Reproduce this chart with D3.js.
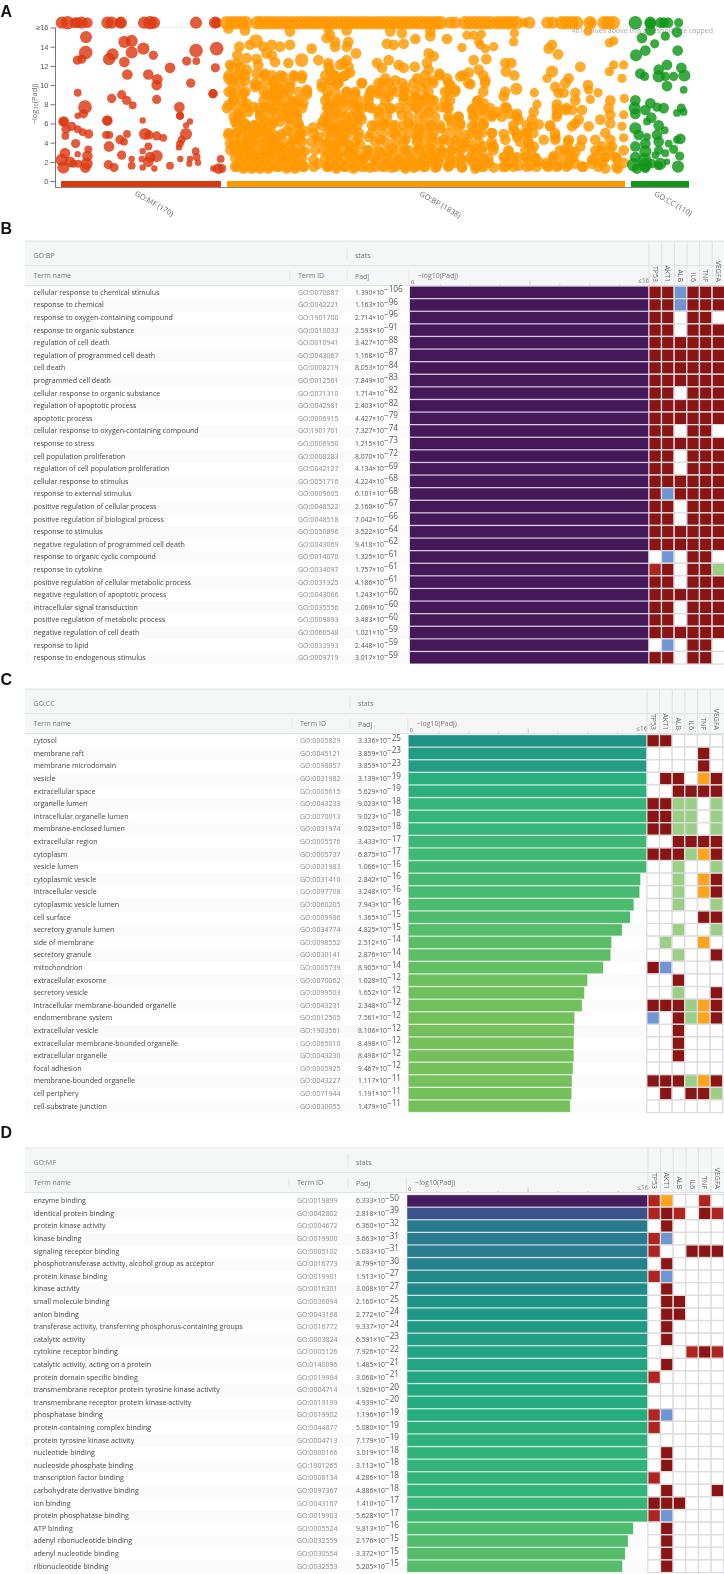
<!DOCTYPE html>
<html>
<head>
<meta charset="utf-8">
<script src="https://cdnjs.cloudflare.com/ajax/libs/d3/7.8.5/d3.min.js"></script>
<style>
  html, body { margin: 0; padding: 0; background: #fff; }
  svg { display: block; font-family: "Open Sans", sans-serif; filter: blur(0.3px); }
</style>
</head>
<body>
<div id="chart"></div>
<script>
// Manhattan points: [axis position, -log10(Padj), size class]. 16.5 = capped row above threshold
var mfPoints = [
  [185,16.5,5],[203,16.5,6],[225,16.5,4],[232,16.5,4],[245,16.5,5],[262,16.5,4],[322,16.5,5],[335,16.5,5],[360,16.5,4],[363,16.5,5],
  [432,16.5,5],[450,16.5,6],[462,16.5,5],[588,16.5,5],[645,16.5,5],[650,16.5,4],
  [258,15.0,5],[257,13.4,6],[245,12.7,3],[232,12.6,3],[395,14.6,5],[373,14.5,5],[395,13.4,5],[338,13.2,5],[327,12.7,5],[373,12.4,4],
  [430,13.8,5],[460,13.1,3],[588,13.6,6],[650,13.8,6],[560,12.5,3],[589,12.5,2],[510,11.8,4],[646,11.8,3],[382,11.1,4],[445,11.1,4],
  [472,10.6,4],[470,10.0,4],[572,10.2,3],[233,9.2,2],[365,9.0,3],[335,8.6,3],[380,8.4,3],[398,7.9,2],[470,8.5,3],[639,9.1,3],[639,9.1,3],
  [255,7.7,6],[250,7.0,3],[233,6.8,1],[538,7.7,4],[540,6.8,2],[540,6.8,2],[191,6.2,4],[191,6.2,3],[322,6.3,4],[322,6.3,3],[428,6.3,1],
  [570,6.2,1],[558,5.8,1],[198,5.4,3],[233,5.4,2],[215,5.7,3],[266,4.9,3],[248,5.1,2],[196,4.7,2],[318,4.8,2],[328,4.8,2],[360,4.3,3],
  [381,4.9,2],[372,4.1,2],[435,4.9,5],[447,4.8,3],[470,4.7,3],[490,4.5,2],[558,4.9,5],[545,4.3,2],[540,3.9,2],[537,3.5,1],[227,3.9,3],
  [327,3.6,4],[445,3.6,2],[428,3.1,1],[587,3.1,2],[590,2.5,2],[233,2.8,1],[195,2.9,4],[265,3.3,2],[262,2.6,4],[470,2.6,5],[450,2.5,4],
  [445,2.0,4],[425,2.3,1],[395,2.3,1],[541,2.3,1],[570,2.3,1],[594,1.9,1],[662,2.3,2],[185,2.2,5],[210,2.0,4],[260,1.8,5],[235,1.8,2],
  [190,1.4,5],[256,1.4,4],[325,1.7,3],[342,1.4,3],[395,1.6,2],[428,1.4,1],[463,1.3,1],[510,1.6,2],[568,1.8,1],[640,1.3,1],[655,1.3,4],
  [665,1.3,3],[365,2.7,3],[220,1.8,2]
];

var bpPoints = [
  [680,16.5],[695,16.5],[710,16.5],[725,16.5],[738,16.5],[772,16.5],[785,16.5],[800,16.5],[815,16.5],[830,16.5],[845,16.5],[860,16.5],
  [875,16.5],[890,16.5],[905,16.5],[920,16.5],[935,16.5],[950,16.5],[965,16.5],[980,16.5],[995,16.5],[1010,16.5],[1025,16.5],[1040,16.5],
  [1055,16.5],[1070,16.5],[1086,16.5],[1100,16.5],[1115,16.5],[1130,16.5],[1145,16.5],[1160,16.5],[1175,16.5],[1190,16.5],[1205,16.5],
  [1220,16.5],[1235,16.5],[1250,16.5],[1265,16.5],[1280,16.5],[1295,16.5],[1310,16.5],[1322,16.5],[1350,16.5,5],[1365,16.5,5],
  [1395,16.5],[1410,16.5],[1425,16.5],[1440,16.5],[1455,16.5],[1470,16.5],[1490,16.5],[1505,16.5],[1520,16.5],[1535,16.5],[1550,16.5],
  [1572,16.5,3],[1588,16.5,5],[1642,16.5,5],[1658,16.5,5],[1685,16.5],[1700,16.5],[1715,16.5],[1730,16.5],[1773,16.5,3],[1825,16.5],
  [1840,16.5],[1770,16.5],[1812,16.5],
  [685,15.9],[735,15.7],[870,15.6],[985,15.9],[990,15.2],[980,14.9],[1005,14.5],[1040,15.7],[1045,14.5],[1005,14.0],[1040,14.0],
  [768,14.6,6],[750,14.2],[718,14.0],[790,14.0],[815,14.2],[870,14.2],[840,14.0],[935,13.8],[712,13.1],[800,13.3],[815,13.1],[740,12.8],
  [770,12.7],[825,12.4],[905,12.6,6],[955,12.6],[985,12.3],[865,12.3],[1040,12.6],[1030,12.3],[690,12.1],[712,12.3],[775,12.1],[1068,13.3],[1020,12.1],
  [740,11.6],[718,11.2],[685,10.7],[700,10.5],[735,10.4],[770,11.2],[795,11.2],[850,10.9],[885,10.9],[905,10.7],[990,11.6],[1050,11.3],
  [1005,11.0],[1030,10.9],[1085,10.2],[770,10.0],[820,10.4],[765,9.8],[825,9.5],[870,9.8],[965,9.8],[990,10.5],[1010,10.2],
  [695,9.3],[730,9.1],[800,9.0],[850,9.1],[920,9.5],[920,9.0],[1040,9.3],[1065,9.1],[985,8.8],[1020,8.6],
  [685,7.9],[740,8.1],[795,7.7],[830,8.4],[860,7.7],[880,8.3],[910,8.1],[985,7.7],[1030,8.3],[1060,8.1],[1075,7.7],[700,8.5],[815,8.8],[840,9.6],
  [715,7.0],[745,7.2],[780,6.9],[850,6.9],[890,7.0],[985,6.7],[1010,7.0],[1040,6.7],[1070,6.9],[820,7.4],[880,7.2],[1000,8.0],[760,7.7],
  [705,6.2],[735,6.0],[765,5.8],[795,6.2],[820,6.0],[870,6.5],[895,6.0],[940,5.6],[968,6.2],[985,5.8],[1030,5.8],[1060,6.0],[1085,6.4],[720,6.6],[840,6.2],
  [685,4.8],[710,5.0],[740,4.4],[770,5.0],[800,5.0],[830,4.6],[860,5.2],[880,4.3],[915,5.2],[955,4.6],[935,4.1],[995,5.0],[1020,4.8],[1045,5.0],[1075,4.6],
  [725,5.3],[785,5.4],[845,4.9],[900,4.8],[1005,5.6],[1055,5.4],[755,5.0],[815,4.2],
  [690,3.9],[715,3.9],[730,3.6],[760,4.1],[790,3.9],[820,3.8],[870,3.6],[900,4.3],[980,3.9],[1010,3.8],[1050,3.6],[1080,3.8],[840,3.6],[745,4.0],[1030,4.2],
  [705,3.1],[735,2.9],[765,2.7],[795,2.9],[825,3.1],[860,2.7],[890,2.9],[915,3.1],[940,2.2],[985,2.9],[1015,2.7],[1045,2.9],[1075,2.7],[750,3.2],[810,3.2],[845,3.3],[875,3.2],[1000,3.3],[1060,3.3],
  [720,2.2],[750,2.2],[780,2.0],[810,2.2],[845,2.2],[875,2.2],[900,2.0],[955,1.8],[990,2.0],[1020,1.8],[1050,2.0],[1080,2.2],
  [705,1.5],[730,1.3],[755,1.3],[780,1.3],[805,1.3],[830,1.5],[860,1.3],[885,1.3],[910,1.5],[985,1.5],[1010,1.3],[1035,1.5],[1060,1.3],[1085,1.5],
  // right half of the axis
  [1171,15.6],[1206,15.4],[1161,14.3],[1181,14.2],[1211,14.3],[1246,14.8],[1291,15.6],[1291,15.1],[1341,14.8],[1401,15.2,3],[1421,15.2,3],[1444,15.3,3],
  [1543,15.4,3],[1541,14.5,3],[1386,13.9,3],[1441,14.2,3],[1456,13.8,3],[1481,14.0,3],[1436,14.5,3],[1656,14.2],[1646,13.8],[1674,13.2],[1764,15.6,3],[1841,14.6,3],[1828,14.4,3],[1286,13.3],[1301,13.0],
  [1131,12.3],[1166,12.6],[1196,12.1],[1211,11.8],[1146,11.8],[1244,11.9],[1281,12.3],[1286,11.6],[1421,12.6],[1459,12.7],[1516,12.3],[1534,12.3],[1518,11.4],[1543,11.0],
  [1656,11.4,5],[1741,11.9],[1841,12.1,3],[1871,12.1,3],[1828,11.4,3],[1641,10.7,3],[1706,10.7],[1866,10.7,3],
  [1156,10.7],[1186,10.5],[1251,10.7],[1296,10.5],[1318,11.2],[1381,10.9],[1406,11.3],[1436,11.6],[1456,10.5],[1411,10.1],[1341,10.7],[1351,10.0],[1146,10.2],[1116,9.5],[1176,9.6],[1216,9.8],[1266,9.8],
  [1696,10.2],[1764,10.0],[1549,9.6,5],[1603,9.2,3],[1666,9.8],[1676,9.2],[1726,9.2],[1691,9.2],[1766,9.5,3],[1794,9.2,3],[1771,8.5,3],
  [1106,8.8],[1136,9.1],[1166,8.8],[1211,8.8],[1246,8.8],[1276,8.8],[1301,8.4],[1366,9.5],[1346,9.4],[1336,8.4],[1431,8.3],[1451,8.1],[1511,8.8],[1611,8.0,3],[1671,8.0],[1726,8.4],[1831,8.4],[1873,8.6,3],[1601,7.2],[1516,7.7],[1416,7.4],[1491,7.2],
  [1106,7.7],[1136,7.2],[1171,7.5],[1206,6.9],[1246,7.7],[1286,7.2],[1326,7.7],[1346,7.6],[1376,6.7],[1421,6.9],[1451,7.4],[1476,6.9],[1531,7.0],[1551,7.0],[1556,6.4],[1596,6.4],[1671,7.0],[1696,7.4],[1716,7.4],[1746,7.4],[1736,6.4],[1826,7.6],[1831,6.9],[1871,6.9,3],
  [1116,5.8],[1151,6.0],[1186,5.8],[1226,6.0],[1256,5.5],[1291,5.8],[1321,5.5],[1351,6.4],[1381,6.0],[1416,5.7],[1451,6.0],[1476,5.0],[1511,4.9],[1541,5.3],[1576,5.0],[1596,5.7],[1616,5.9],[1651,5.7],[1666,4.6],[1716,5.7],[1766,5.7],[1801,6.4],[1831,6.0],[1866,5.7,3],[1726,6.0],
  [1106,4.6],[1141,4.3],[1186,4.9],[1216,4.3],[1251,4.5],[1296,4.6],[1331,4.3],[1366,4.2],[1396,4.8],[1431,4.9],[1476,3.6],[1516,4.3],[1551,4.6],[1586,3.9],[1631,4.3],[1666,4.3],[1706,4.3],[1746,4.3],[1786,4.3],[1816,5.0],[1831,4.3],[1871,4.5,3],[1396,3.9],[1586,3.9],
  [1101,3.2],[1141,3.0],[1176,3.4],[1216,3.2],[1256,3.4],[1291,3.4],[1326,3.0],[1356,3.2],[1386,3.4],[1426,3.4],[1481,3.6],[1526,3.0],[1576,3.2],[1601,3.6],[1696,3.3],[1726,3.0],[1786,3.2],[1806,3.6],[1836,3.6],[1871,3.2],[1741,3.6],[1451,3.6],
  [1096,2.5],[1126,2.2],[1161,2.4],[1196,2.2],[1231,2.4],[1271,2.4],[1301,2.5],[1351,2.2],[1386,2.2],[1421,2.5],[1451,2.2],[1511,2.5],[1551,2.5],[1576,2.5],[1606,2.4],[1661,2.6],[1711,2.5],[1776,2.2],[1816,2.5],[1846,2.5],
  [1111,1.4],[1146,1.5],[1176,1.4],[1216,1.3],[1241,1.4],[1271,1.5],[1306,1.4],[1346,1.6],[1386,1.4],[1426,1.3],[1446,1.5],[1481,1.4],[1516,1.5],[1556,1.6],[1591,1.6],[1641,1.6],[1676,1.6],[1706,1.7],[1746,1.5],[1816,1.3],[1853,1.3],[1871,1.9],
  [1366,1.9],[1316,1.9],[1221,1.9],[1191,1.8],[1251,1.8],[1161,1.8],[1296,2.0],[1416,2.0],[1466,1.9],[1641,1.9],[1616,2.0],[1526,1.8],[1806,1.9],[1776,1.8],[1726,1.8]
];

// dense part of the BP cloud, one band per value: [-log10(Padj), [axis positions]]
var bpBands = [
  [11.9, [696,721,986,1046]],
  [11.0, [686,711,736,791,816,841,881,906,976,1001,1036,1275,1320,1390,1450]],
  [10.2, [696,721,766,796,821,846,871,966,991,1016,1086,1136,1166,1206,1241,1275,1300,1345,1405,1455]],
  [9.3, [686,711,736,791,816,841,866,896,921,981,1006,1041,1066,1111,1141,1166,1191,1216,1246,1285,1335,1365,1450,1515]],
  [8.4, [701,726,791,816,841,871,896,976,1011,1046,1076,1106,1156,1211,1236,1261,1270,1295,1350,1435]],
  [7.6, [681,711,736,776,801,826,851,881,906,981,1006,1031,1061,1086,1116,1146,1171,1196,1221,1251,1275,1300,1340,1420,1445,1470,1520,1670,1700]],
  [6.7, [701,721,781,806,831,861,891,976,1001,1026,1056,1081,1136,1161,1226,1256,1275,1305,1345,1375,1420,1445,1475,1505,1550,1670]],
  [5.8, [711,736,761,786,811,871,896,966,991,1016,1041,1071,1126,1151,1176,1211,1241,1270,1295,1320,1355,1380,1425,1450,1540,1580,1650]],
  [5.0, [686,711,741,766,791,816,876,901,941,981,1006,1031,1076,1116,1146,1176,1206,1231,1256,1275,1300,1340,1370,1415,1445,1475,1550,1580,1600,1665]],
  [4.1, [701,726,751,776,801,826,851,881,906,956,986,1011,1036,1066,1126,1156,1186,1211,1251,1270,1295,1320,1350,1380,1405,1435,1475,1560,1585,1705]],
  [3.2, [691,716,741,766,791,816,841,901,946,971,1001,1026,1051,1106,1136,1166,1196,1226,1256,1275,1300,1325,1355,1380,1415,1445,1480,1525,1595,1680,1710,1800,1830]],
  [2.4, [706,731,756,781,806,831,856,881,906,976,1006,1031,1061,1091,1121,1151,1181,1211,1241,1270,1295,1320,1350,1380,1410,1440,1465,1515,1540,1580,1605,1660,1690,1720,1785,1815,1850]],
  [1.5, [711,736,761,786,811,836,861,886,911,941,981,1006,1036,1066,1096,1126,1156,1186,1216,1246,1275,1310,1345,1385,1430,1450,1510,1540,1580,1610,1645,1670,1700,1750,1795,1850]]
];

var ccPoints = [
  [1906,16.5,6],[1951,16.5,5],[1991,16.5,4],[2004,16.5,4],[2036,16.5,3],[1951,16.4,4],[1981,16.5,4],
  [1951,15.7,4],[2031,15.5,4],[1996,15.1,3],[1926,14.9,4],[1964,14.3,3],[1936,13.6,4],[1908,13.1,5],[2033,13.6,4],
  [2001,12.1,4],[1976,11.6,4],[2044,11.8,4],[1921,11.2,4],[1934,10.9,3],[1976,10.9,5],[1996,10.9,3],[2021,10.9,3],[2053,11.0,5],[2001,9.9,4],[2051,9.5,2],
  [1906,8.4,4],[1951,8.1,4],[1904,7.6,5],[1936,7.4,4],[1971,7.7,3],[1991,7.6,4],[2044,7.6,3],[1906,7.0,4],[2031,7.1,2],[2051,7.2,2],[1954,6.6,4],[1976,5.8,4],
  [1906,5.5,5],[1941,6.2,2],[1916,4.8,4],[1994,5.3,2],[1971,4.8,4],[1941,4.6,2],[1936,3.9,4],[1976,4.1,4],[2041,4.4,4],[2031,4.3,2],[1906,3.6,4],[2006,3.9,2],
  [2021,3.3,3],[1976,3.2,3],[1936,3.1,5],[1996,2.9,2],[1906,2.5,4],[1934,2.2,6],[2039,2.6,3],[1981,1.8,5],[1901,1.7,6],[1936,1.7,6],[1911,1.3,4],[2034,1.5,5],
  [1936,1.3,3],[1976,1.6,3],[2001,2.0,1],[1956,1.8,3],[1966,2.7,2]
];

var groupNames = ["GO:MF (170)", "GO:BP (1838)", "GO:CC (110)"];
var yTicks = [0, 2, 4, 6, 8, 10, 12, 14, 16];
var geneNames = ["TP53", "AKT1", "ALB", "IL6", "TNF", "VEGFA"];

var bpTerms = ["cellular response to chemical stimulus","response to chemical","response to oxygen-containing compound","response to organic substance","regulation of cell death","regulation of programmed cell death","cell death","programmed cell death","cellular response to organic substance","regulation of apoptotic process","apoptotic process","cellular response to oxygen-containing compound","response to stress","cell population proliferation","regulation of cell population proliferation","cellular response to stimulus","response to external stimulus","positive regulation of cellular process","positive regulation of biological process","response to stimulus","negative regulation of programmed cell death","response to organic cyclic compound","response to cytokine","positive regulation of cellular metabolic process","negative regulation of apoptotic process","intracellular signal transduction","positive regulation of metabolic process","negative regulation of cell death","response to lipid","response to endogenous stimulus"];
var bpIds = ["0070887","0042221","1901700","0010033","0010941","0043067","0008219","0012501","0071310","0042981","0006915","1901701","0006950","0008283","0042127","0051716","0009605","0048522","0048518","0050896","0043069","0014070","0034097","0031325","0043066","0035556","0009893","0060548","0033993","0009719"];
var bpPadj = [1.390e-106,1.163e-96,2.714e-96,2.593e-91,3.427e-88,1.168e-87,8.053e-84,7.849e-83,1.714e-82,2.403e-82,4.427e-79,7.327e-74,1.215e-73,8.070e-72,4.134e-69,4.224e-68,6.101e-68,2.160e-67,7.042e-66,3.522e-64,9.418e-62,1.325e-61,1.757e-61,4.186e-61,1.243e-60,2.069e-60,3.483e-60,1.021e-59,2.448e-59,3.017e-59];
// evidence per gene: d dark red, r red, o orange, g green, b blue, . none
var bpCells = ["ddbddd","ddbddd","dd.dd.","dd.ddd","dddddd","dddddd","dddddd","dddddd","dd.ddd","dddddd","dddddd","dd.dd.","dddddd","dd.ddd","dd.ddd","dddddd","dbdddd","dd.ddd","dd.ddd","dddddd","dddddd",".b.dd.","rd.ddg","dd.ddd","dddddd","dd.ddd","dd.ddd","dddddd",".b.dd.","dd.dd."];

var ccTerms = ["cytosol","membrane raft","membrane microdomain","vesicle","extracellular space","organelle lumen","intracellular organelle lumen","membrane-enclosed lumen","extracellular region","cytoplasm","vesicle lumen","cytoplasmic vesicle","intracellular vesicle","cytoplasmic vesicle lumen","cell surface","secretory granule lumen","side of membrane","secretory granule","mitochondrion","extracellular exosome","secretory vesicle","intracellular membrane-bounded organelle","endomembrane system","extracellular vesicle","extracellular membrane-bounded organelle","extracellular organelle","focal adhesion","membrane-bounded organelle","cell periphery","cell-substrate junction"];
var ccIds = ["0005829","0045121","0098857","0031982","0005615","0043233","0070013","0031974","0005576","0005737","0031983","0031410","0097708","0060205","0009986","0034774","0098552","0030141","0005739","0070062","0099503","0043231","0012505","1903561","0065010","0043230","0005925","0043227","0071944","0030055"];
var ccPadj = [3.336e-25,3.859e-23,3.859e-23,3.139e-19,5.629e-19,9.023e-18,9.023e-18,9.023e-18,3.433e-17,6.875e-17,1.066e-16,2.842e-16,3.248e-16,7.943e-16,1.365e-15,4.825e-15,2.512e-14,2.876e-14,8.905e-14,1.028e-12,1.652e-12,2.348e-12,7.561e-12,8.106e-12,8.498e-12,8.498e-12,9.467e-12,1.117e-11,1.191e-11,1.479e-11];
var ccCells = ["dd....","....d.","....d.",".dd.od","..dddd","ddgg.g","ddgg.g","ddgg.g","..dddd","dddgod","..g..g","..g.od","..g.od","..g..g","....dd","..g..g",".g..o.","..g..d","db....","..d...","..g..d","dddgod","b.dgod","..d...","..d...","..d...","......","dddgod",".d.ddg","......"];

var mfTerms = ["enzyme binding","identical protein binding","protein kinase activity","kinase binding","signaling receptor binding","phosphotransferase activity, alcohol group as acceptor","protein kinase binding","kinase activity","small molecule binding","anion binding","transferase activity, transferring phosphorus-containing groups","catalytic activity","cytokine receptor binding","catalytic activity, acting on a protein","protein domain specific binding","transmembrane receptor protein tyrosine kinase activity","transmembrane receptor protein kinase activity","phosphatase binding","protein-containing complex binding","protein tyrosine kinase activity","nucleotide binding","nucleoside phosphate binding","transcription factor binding","carbohydrate derivative binding","ion binding","protein phosphatase binding","ATP binding","adenyl ribonucleotide binding","adenyl nucleotide binding","ribonucleotide binding"];
var mfIds = ["0019899","0042802","0004672","0019900","0005102","0016773","0019901","0016301","0036094","0043168","0016772","0003824","0005126","0140096","0019904","0004714","0019199","0019902","0044877","0004713","0000166","1901265","0008134","0097367","0043167","0019903","0005524","0032559","0030554","0032553"];
var mfPadj = [6.333e-50,2.818e-39,6.360e-32,3.663e-31,5.033e-31,8.799e-30,1.913e-27,3.008e-27,2.160e-25,2.772e-24,9.337e-24,6.591e-23,7.926e-22,1.485e-21,3.068e-21,1.926e-20,4.939e-20,1.196e-19,5.080e-19,7.179e-19,3.019e-18,3.113e-18,4.286e-18,4.886e-18,1.410e-17,5.628e-17,9.813e-16,2.176e-15,3.372e-15,5.205e-15];
var mfCells = ["ro..r.","rdr.dr",".d....","rb....","r..ddd",".d....","rb....",".d....",".dd...",".dd...",".d....",".d....","...rdr",".d....","r.....","......","......","rb....","r.....","......",".d....",".d....","r.....",".d...d","ddd...","rb....",".d....",".d....",".d....",".d...."];

var width = 724, height = 1574;
var svg = d3.select("#chart").append("svg").attr("width", width).attr("height", height);

var panelLabels = [["A", 17], ["B", 234], ["C", 685], ["D", 1138]];
svg.selectAll(".panel").data(panelLabels).enter().append("text")
    .attr("x", 0.5).attr("y", function (d) { return d[1]; })
    .attr("font-family", "Liberation Sans").attr("font-weight", "bold").attr("font-size", 16)
    .attr("fill", "#111").text(function (d) { return d[0]; });

//Manhattan

var x = d3.scaleLinear().domain([0, 2172]).range([0, 724]);
var y = d3.scaleLinear().domain([0, 16]).range([181, 27.5]);
var r = d3.scaleLinear().domain([1, 6]).range([3.2, 6.8]);
var groupColor = ["#dc3912", "#ff9900", "#109618"];
var groupSpans = [[183, 663], [681, 1875], [1893, 2067]];

var top_ = svg.append("g");

top_.append("line").attr("x1", 55).attr("x2", 690).attr("y1", y(16)).attr("y2", y(16))
    .attr("stroke", "#ccc").attr("stroke-width", 0.6).attr("stroke-dasharray", "2,2");

top_.append("text").attr("x", 713).attr("y", 32.5).attr("text-anchor", "end")
    .attr("font-size", 7).attr("fill", "#aaa").text("461 values above this threshold are capped");

var yAxis = d3.axisLeft(y).tickValues(yTicks).tickSize(5).tickPadding(2)
    .tickFormat(function (d) { return d === 16 ? "≥16" : d; });
var yG = top_.append("g").attr("transform", "translate(55.5,0)").call(yAxis);
yG.select(".domain").attr("d", "M0,27.5V187.5").attr("stroke", "#777");
yG.selectAll("line").attr("stroke", "#777");
yG.selectAll("text").attr("font-size", 7.5).attr("fill", "#555").attr("font-family", "Liberation Sans");

var yTitle = top_.append("text").attr("transform", "translate(37,104) rotate(-90)")
    .attr("text-anchor", "middle").attr("font-size", 7.5).attr("fill", "#666");
yTitle.append("tspan").text("−log");
yTitle.append("tspan").attr("font-size", 5.5).attr("dy", 1).text("10");
yTitle.append("tspan").attr("dy", -1).text("(Padj)");

top_.append("line").attr("x1", 55).attr("x2", 689).attr("y1", 187.5).attr("y2", 187.5).attr("stroke", "#888");

top_.selectAll(".span").data(groupSpans).enter().append("rect")
    .attr("x", function (d) { return x(d[0]); })
    .attr("width", function (d) { return x(d[1]) - x(d[0]); })
    .attr("y", 181).attr("height", 6)
    .attr("fill", function (d, i) { return groupColor[i]; });

var bpBandPoints = d3.merge(bpBands.map(function (b) {
  return b[1].map(function (p) { return [p, b[0]]; });
}));

[mfPoints, bpPoints.concat(bpBandPoints), ccPoints].forEach(function (points, i) {
  top_.append("g").selectAll("circle").data(points).enter().append("circle")
      .attr("cx", function (d) { return x(d[0]); })
      .attr("cy", function (d) { return y(d[1]); })
      .attr("r", function (d) {
        if (d[2] !== undefined) return r(d[2]);
        return r(d[1] > 16 ? 6 : 4);
      })
      .attr("fill", groupColor[i])
      .attr("fill-opacity", 0.82);
});

var groupLabelPos = [[154, 204], [440, 205], [673, 204]];
top_.selectAll(".glabel").data(groupNames).enter().append("text")
    .attr("transform", function (d, i) {
      return "translate(" + groupLabelPos[i][0] + "," + groupLabelPos[i][1] + ") rotate(30)";
    })
    .attr("text-anchor", "middle").attr("dy", 2).attr("font-size", 7.5).attr("fill", "#666")
    .text(function (d) { return d; });

//Tables

var cellColor = { d: "#8b1515", r: "#b0251f", o: "#fca41c", g: "#9bcf85", b: "#6f95d3", ".": "#fff" };
var rowH = 12.6;

var barColor = d3.scaleLinear()
    .domain([50, 39, 32, 25, 19, 17, 15, 12, 11])
    .range(["#45185a", "#3d4f8b", "#2a7690", "#1f9088", "#25ad7f", "#35b579", "#4ebb6e", "#6ebf5e", "#75c05c"])
    .clamp(true);

function drawTable(opt) {
  var g = svg.append("g");
  var rows = d3.range(opt.terms.length);
  var headTop = opt.top, head1 = opt.top + 24.5, head2 = opt.top + 44.5;
  var y0 = opt.top + opt.rowsAt;
  var rowY = d3.scaleLinear().domain([0, 1]).range([y0, y0 + rowH]);
  var cellX = d3.scaleLinear().domain([0, 1]).range([opt.cellX, opt.cellX + 12.65]);
  var v = d3.scaleLinear().domain([0, 16]).range([opt.barX, opt.cellX - 0.6]).clamp(true);

  // header
  g.append("rect").attr("x", 25).attr("y", headTop).attr("width", width - 25).attr("height", head2 - headTop)
      .attr("fill", "#f5f6f6");
  [headTop, head1, head2].forEach(function (yy) {
    g.append("line").attr("x1", 25).attr("x2", width).attr("y1", yy).attr("y2", yy)
        .attr("stroke", "#dfe3e7").attr("stroke-width", 1);
  });
  [[opt.xId - 8, head1 + 5, head2 - 5], [opt.xPadj - 8, head1 + 5, head2 - 5], [opt.xPadj - 8, headTop + 6, head1 - 5], [opt.barX - 1, head1 + 5, head2]].forEach(function (s) {
    g.append("line").attr("x1", s[0]).attr("x2", s[0]).attr("y1", s[1]).attr("y2", s[2]).attr("stroke", "#e3e5e7");
  });
  g.append("text").attr("x", 33.5).attr("y", headTop + 17).attr("font-size", 7).attr("fill", "#777").text(opt.name);
  g.append("text").attr("x", opt.xPadj).attr("y", headTop + 17).attr("font-size", 7).attr("fill", "#777").text("stats");
  g.append("text").attr("x", 33.5).attr("y", head1 + 12).attr("font-size", 7).attr("fill", "#777").text("Term name");
  g.append("text").attr("x", opt.xId).attr("y", head1 + 12).attr("font-size", 7).attr("fill", "#777").text("Term ID");
  g.append("text").attr("x", opt.xPadj).attr("y", head1 + 13).attr("font-size", 7).attr("fill", "#777").text("Padj");

  // bar axis
  var axis = d3.axisTop(v).tickValues([2, 4, 6, 8, 10, 12, 14]).tickFormat("").tickSize(1.5);
  var ag = g.append("g").attr("transform", "translate(0," + head2 + ")").call(axis);
  ag.select(".domain").remove();
  ag.selectAll("line").attr("stroke", "#ccd").attr("y2", function (d) { return d === 8 ? -5 : -1.5; });
  g.append("text").attr("x", opt.barX + 1).attr("y", head2 - 2).attr("font-size", 5.5).attr("fill", "#666").text("0");
  g.append("text").attr("x", opt.barX + 8).attr("y", head2 - 8).attr("font-size", 7).attr("fill", "#777").text("−log10(Padj)");
  g.append("text").attr("x", opt.cellX).attr("y", head2 - 3).attr("text-anchor", "end").attr("font-size", 6.5).attr("fill", "#777").text("≤16");

  // gene header
  g.selectAll(".gene").data(geneNames).enter().append("line")
      .attr("x1", function (d, i) { return cellX(i) - 0.5; })
      .attr("x2", function (d, i) { return cellX(i) - 0.5; })
      .attr("y1", headTop).attr("y2", head2).attr("stroke", "#dfe3e7");
  g.selectAll(".gname").data(geneNames).enter().append("text")
      .attr("transform", function (d, i) { return "translate(" + (cellX(i) + 3.1) + "," + (head2 - 3.5) + ") rotate(90)"; })
      .attr("text-anchor", "end").attr("font-size", 7).attr("fill", "#666").text(function (d) { return d; });

  // rows
  var row = g.selectAll(".row").data(rows).enter().append("g");
  row.filter(function (i) { return i % 2 === 1; }).append("rect")
      .attr("x", 25).attr("y", function (i) { return rowY(i); })
      .attr("width", opt.cellX - 25).attr("height", rowH).attr("fill", "#fbfbfb");

  row.append("text").attr("x", 33.5).attr("y", function (i) { return rowY(i) + 8.2; })
      .attr("font-size", 7.1).attr("fill", "#444").text(function (i) { return opt.terms[i]; });
  row.append("text").attr("x", opt.xId).attr("y", function (i) { return rowY(i) + 8.2; })
      .attr("font-size", 7).attr("fill", "#888").text(function (i) { return "GO:" + opt.ids[i]; });

  var padj = row.append("text").attr("x", opt.xPadj).attr("y", function (i) { return rowY(i) + 8.2; })
      .attr("font-size", 6.8).attr("fill", "#555");
  padj.append("tspan").text(function (i) { return opt.padj[i].toExponential(3).split("e")[0] + "×10"; });
  padj.append("tspan").attr("dy", -2.5).attr("font-size", 8.2).text(function (i) {
    return "−" + opt.padj[i].toExponential(3).split("e-")[1];
  });

  row.append("rect")
      .attr("x", opt.barX).attr("y", function (i) { return rowY(i) + 0.2; })
      .attr("width", function (i) { return v(-Math.log10(opt.padj[i])) - opt.barX; })
      .attr("height", rowH - 1.3)
      .attr("fill", function (i) { return barColor(-Math.log10(opt.padj[i])); })
      .attr("stroke", function (i) { return barColor(-Math.log10(opt.padj[i])); })
      .attr("stroke-opacity", 0.3).attr("stroke-width", 1);

  // evidence cells
  row.each(function (i) {
    d3.select(this).selectAll("rect.cell").data(opt.cells[i].split("")).enter().append("rect")
        .attr("class", "cell")
        .attr("x", function (c, j) { return cellX(j) - 0.65; })
        .attr("y", rowY(i) - 0.45)
        .attr("width", 12.65).attr("height", rowH)
        .attr("fill", function (c) { return cellColor[c]; })
        .attr("stroke", "#dcdcde").attr("stroke-width", 1.3);
  });
}

drawTable({ name: "GO:BP", terms: bpTerms, ids: bpIds, padj: bpPadj, cells: bpCells, top: 241, rowsAt: 45.5, xId: 298, xPadj: 355, barX: 410, cellX: 649.5 });
drawTable({ name: "GO:CC", terms: ccTerms, ids: ccIds, padj: ccPadj, cells: ccCells, top: 689, rowsAt: 46, xId: 300, xPadj: 358, barX: 408.7, cellX: 647.5 });
drawTable({ name: "GO:MF", terms: mfTerms, ids: mfIds, padj: mfPadj, cells: mfCells, top: 1148, rowsAt: 47, xId: 297, xPadj: 356, barX: 407.3, cellX: 648.5 });
</script>
</body>
</html>
